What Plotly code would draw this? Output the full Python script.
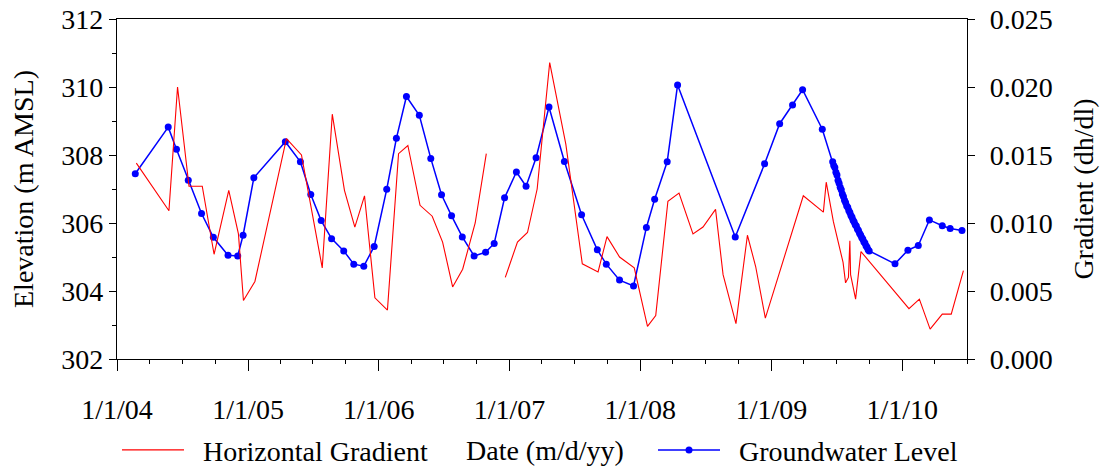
import plotly.graph_objects as go

# Groundwater level (m AMSL)
gw_dates = [
    "2004-02-21", "2004-05-23", "2004-06-15", "2004-07-18", "2004-08-24", "2004-09-26",
    "2004-11-06", "2004-12-03", "2004-12-18", "2005-01-17", "2005-04-15", "2005-05-27",
    "2005-06-25", "2005-07-24", "2005-08-22", "2005-09-25", "2005-10-23", "2005-11-20",
    "2005-12-19", "2006-01-23", "2006-02-19", "2006-03-19", "2006-04-24", "2006-05-26",
    "2006-06-25", "2006-07-23", "2006-08-22", "2006-09-24", "2006-10-26", "2006-11-19",
    "2006-12-18", "2007-01-20", "2007-02-16", "2007-03-16", "2007-04-21", "2007-06-03",
    "2007-07-21", "2007-09-03", "2007-09-28", "2007-11-04", "2007-12-13", "2008-01-18",
    "2008-02-10", "2008-03-16", "2008-04-14", "2008-09-22", "2008-12-13", "2009-01-24",
    "2009-03-01", "2009-03-29", "2009-05-23",
    "2009-06-21", "2009-06-24", "2009-06-27", "2009-06-30", "2009-07-03", "2009-07-06",
    "2009-07-09", "2009-07-12", "2009-07-15", "2009-07-18", "2009-07-21", "2009-07-24",
    "2009-07-27", "2009-07-30", "2009-08-02", "2009-08-05", "2009-08-08", "2009-08-11",
    "2009-08-14", "2009-08-17", "2009-08-20", "2009-08-23", "2009-08-26", "2009-08-29",
    "2009-09-01", "2009-09-04", "2009-09-07", "2009-09-10", "2009-09-13", "2009-09-16",
    "2009-09-19", "2009-09-22", "2009-09-25", "2009-09-28", "2009-10-01",
    "2009-12-12", "2010-01-17", "2010-02-15", "2010-03-18", "2010-04-23", "2010-05-15",
    "2010-06-17",
]
gw_level = [
    307.45, 308.82, 308.17, 307.26, 306.28, 305.58,
    305.05, 305.03, 305.64, 307.33, 308.39, 307.80,
    306.84, 306.07, 305.54, 305.18, 304.79, 304.73,
    305.31, 306.99, 308.49, 309.72, 309.17, 307.90,
    306.83, 306.21, 305.59, 305.03, 305.14, 305.40,
    306.74, 307.50, 307.08, 307.92, 309.41, 307.81,
    306.24, 305.21, 304.79, 304.32, 304.15, 305.87,
    306.70, 307.80, 310.06, 305.59, 307.74, 308.92,
    309.47, 309.92, 308.76,
    307.80, 307.69, 307.63, 307.49, 307.41, 307.26,
    307.17, 307.05, 306.98, 306.85, 306.78, 306.67,
    306.60, 306.51, 306.46, 306.37, 306.31, 306.22,
    306.17, 306.08, 306.03, 305.95, 305.91, 305.82,
    305.78, 305.70, 305.65, 305.57, 305.53, 305.45,
    305.41, 305.33, 305.29, 305.21, 305.18,
    304.80, 305.20, 305.34, 306.09, 305.92, 305.84,
    305.78,
]

# Horizontal gradient (dh/dl); None marks the break in the record
hg_dates = [
    "2004-02-24", "2004-05-25", "2004-06-18", "2004-07-20", "2004-08-26", "2004-09-28",
    "2004-11-08", "2004-12-05", "2004-12-19", "2005-01-20", "2005-04-18", "2005-05-30",
    "2005-07-27", "2005-08-24", "2005-09-27", "2005-10-26", "2005-11-22", "2005-12-21",
    "2006-01-25", "2006-02-25", "2006-03-23", "2006-04-26", "2006-05-30", "2006-06-28",
    "2006-07-26", "2006-08-23", "2006-09-27", "2006-10-28", "2006-11-20",
    "2006-12-20", "2007-01-23", "2007-02-20", "2007-03-19", "2007-04-23", "2007-06-07",
    "2007-07-23", "2007-09-05", "2007-09-30", "2007-11-04", "2007-12-15", "2008-01-21",
    "2008-02-13", "2008-03-18", "2008-04-18", "2008-05-27", "2008-06-24", "2008-07-29",
    "2008-08-19", "2008-09-24", "2008-10-26", "2008-11-18", "2008-12-15", "2009-03-31",
    "2009-05-26", "2009-06-03", "2009-06-23", "2009-07-20", "2009-07-27", "2009-08-04",
    "2009-08-08", "2009-08-10", "2009-08-24", "2009-09-08", "2010-01-20", "2010-02-18",
    "2010-03-20", "2010-04-23", "2010-05-18", "2010-06-21",
]
hg_value = [
    0.0144, 0.0109, 0.0200, 0.0127, 0.0127, 0.0077,
    0.0124, 0.0092, 0.0043, 0.0057, 0.0162, 0.0150,
    0.0067, 0.0180, 0.0124, 0.0097, 0.0120, 0.0045,
    0.0036, 0.0151, 0.0157, 0.0113, 0.0105, 0.0086,
    0.0053, 0.0066, 0.0100, 0.0151, None,
    0.0060, 0.0086, 0.0093, 0.0125, 0.0218, 0.0158,
    0.0070, 0.0064, 0.0090, 0.0075, 0.0067, 0.0024,
    0.0032, 0.0116, 0.0122, 0.0092, 0.0097, 0.0110,
    0.0062, 0.0026, 0.0091, 0.0068, 0.0030, 0.0120,
    0.0108, 0.0130, 0.0101, 0.0071, 0.0056, 0.0060,
    0.0087, 0.0062, 0.0044, 0.0079, 0.0037, 0.0044,
    0.0022, 0.0033, 0.0033, 0.0065,
]

x_tick_vals = ["2004-01-01", "2005-01-01", "2006-01-01", "2007-01-01",
               "2008-01-01", "2009-01-01", "2010-01-01"]
x_tick_text = ["1/1/04", "1/1/05", "1/1/06", "1/1/07", "1/1/08", "1/1/09", "1/1/10"]

FONT = "Liberation Serif, Times New Roman, serif"
FSIZE = 28
NBSP = "\u00a0"

fig = go.Figure()
fig.add_trace(go.Scatter(
    x=hg_dates, y=hg_value, name=NBSP * 2 + "Horizontal Gradient", yaxis="y2",
    mode="lines", line=dict(color="#ff0000", width=1.1), connectgaps=False,
    legend="legend",
))
fig.add_trace(go.Scatter(
    x=gw_dates, y=gw_level, name=NBSP * 2 + "Groundwater Level",
    mode="lines+markers", line=dict(color="#0000ff", width=1.5),
    marker=dict(color="#0000ff", size=7),
    legend="legend2",
))

axis_common = dict(
    showline=True, linecolor="black", linewidth=1.2,
    ticks="outside", tickcolor="black", tickwidth=1.2,
    showgrid=False, zeroline=False, automargin=True,
    tickfont=dict(family=FONT, size=FSIZE, color="black"),
)
title_font = dict(family=FONT, size=FSIZE, color="black")

legend_common = dict(
    orientation="h", xanchor="left", yref="container", y=0.038, yanchor="middle",
    font=dict(family=FONT, size=FSIZE, color="black"),
    itemwidth=62, bgcolor="rgba(0,0,0,0)", borderwidth=0,
)

fig.update_layout(
    width=1105, height=468,
    margin=dict(l=117, r=138, t=19, b=109, autoexpand=False),
    paper_bgcolor="white", plot_bgcolor="white",
    font=dict(family=FONT, size=FSIZE, color="black"),
    showlegend=True,
    legend=dict(x=0.0, **legend_common),
    legend2=dict(x=0.6306, **legend_common),
    xaxis=dict(
        type="date", range=["2004-01-01", "2010-07-01"],
        tickvals=x_tick_vals, ticktext=x_tick_text, ticklen=11,
        ticklabelstandoff=14, mirror=True,
        minor=dict(dtick="M3", tick0="2004-01-01", ticks="outside", ticklen=4,
                   tickcolor="black", tickwidth=1.2, showgrid=False),
        **axis_common,
    ),
    yaxis=dict(
        range=[302, 312], dtick=2, tick0=302, ticklen=7,
        minor=dict(dtick=1, ticks="outside", ticklen=4, tickcolor="black",
                   tickwidth=1.2, showgrid=False),
        title=dict(text="Elevation (m AMSL)", standoff=19, font=title_font),
        **axis_common,
    ),
    yaxis2=dict(
        overlaying="y", side="right", range=[0, 0.025], dtick=0.005, tick0=0,
        tickformat=".3f", ticklen=7, ticklabelstandoff=9,
        title=dict(text="Gradient (dh/dl)", standoff=21, font=title_font),
        **axis_common,
    ),
    # x-axis title sits in the legend row, centred under the plot
    annotations=[dict(
        text="Date (m/d/yy)", xref="paper", yref="paper", x=0.5038, y=-0.269,
        xanchor="center", yanchor="middle", showarrow=False, font=title_font,
    )],
)

fig.write_html("out.html")
